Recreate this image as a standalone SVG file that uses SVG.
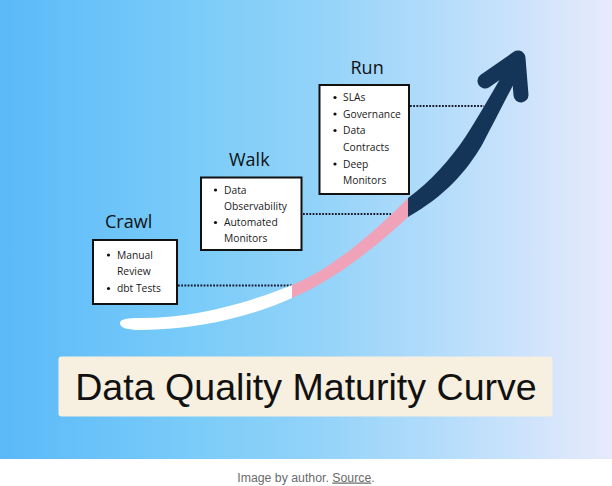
<svg xmlns="http://www.w3.org/2000/svg" width="612" height="486" viewBox="0 0 612 486">
<defs>
<linearGradient id="bg" x1="0" y1="0" x2="1" y2="0">
<stop offset="0" stop-color="#5bb9f8"/>
<stop offset="0.3" stop-color="#78cbf9"/>
<stop offset="0.5" stop-color="#90d2f9"/>
<stop offset="0.75" stop-color="#b9defb"/>
<stop offset="1" stop-color="#e8eafc"/>
</linearGradient>
<style>
.box{fill:#fff;stroke:#111;stroke-width:2}
.stage{font-family:"Open Sans",Lato,sans-serif;font-size:18px;fill:#111}
.item{font-family:"Open Sans",Lato,sans-serif;font-size:10.3px;fill:#1a1a1a}
.dot{stroke:#1a1a2e;stroke-width:2;stroke-dasharray:1.8 1.4;fill:none}
</style>
</defs>
<rect x="0" y="0" width="612" height="486" fill="#fff"/>
<rect x="0" y="0" width="612" height="459" fill="url(#bg)"/>

<g id="connectors">
<line class="dot" x1="178" y1="285.5" x2="292" y2="285.5"/>
<line class="dot" x1="303" y1="214" x2="391" y2="214"/>
<line class="dot" x1="410" y1="106" x2="484" y2="106"/>
</g>

<g id="curve">
<path d="M292,285 C255,300 200,318 140,318 C128,318 120,319 120,323 C120,328 128,330 140,330 C200,330 255,315 292,298 Z" fill="#ffffff"/>
<path d="M292,285 C330,270 375,232 408,198 L408,217 C378,245 335,280 292,298 Z" fill="#f0a3b8"/>
<path d="M408,198 C430,182 450,160 466,136 C480,114 495,88 512,58 L524,64 C508,95 494,122 482,145 C466,172 445,196 408,217 Z" fill="#143557"/>
<polyline points="485,81 518,58 521,95" fill="none" stroke="#143557" stroke-width="15" stroke-linecap="round" stroke-linejoin="round"/>
</g>

<g id="crawl">
<text class="stage" x="105" y="228">Crawl</text>
<rect class="box" x="93" y="240" width="84" height="64"/>
<circle cx="108.5" cy="255" r="1.6" fill="#111"/>
<text class="item" x="117" y="258.5">Manual</text>
<text class="item" x="117" y="275">Review</text>
<circle cx="108.5" cy="288.5" r="1.6" fill="#111"/>
<text class="item" x="117" y="292">dbt Tests</text>
</g>

<g id="walk">
<text class="stage" x="229" y="166">Walk</text>
<rect class="box" x="201" y="177.5" width="100.5" height="72.5"/>
<circle cx="215.5" cy="190" r="1.6" fill="#111"/>
<text class="item" x="224" y="193.5">Data</text>
<text class="item" x="224" y="209.5">Observability</text>
<circle cx="215.5" cy="222.5" r="1.6" fill="#111"/>
<text class="item" x="224" y="226">Automated</text>
<text class="item" x="224" y="242">Monitors</text>
</g>

<g id="run">
<text class="stage" x="350.5" y="74">Run</text>
<rect class="box" x="319.5" y="85" width="89.5" height="109"/>
<circle cx="335" cy="97.5" r="1.6" fill="#111"/>
<text class="item" x="343" y="101">SLAs</text>
<circle cx="335" cy="114" r="1.6" fill="#111"/>
<text class="item" x="343" y="117.5">Governance</text>
<circle cx="335" cy="130.5" r="1.6" fill="#111"/>
<text class="item" x="343" y="134">Data</text>
<text class="item" x="343" y="150.5">Contracts</text>
<circle cx="335" cy="164" r="1.6" fill="#111"/>
<text class="item" x="343" y="167.5">Deep</text>
<text class="item" x="343" y="183.5">Monitors</text>
</g>

<g id="title">
<rect x="58.5" y="356.5" width="494" height="60" rx="3" fill="#f7efe0"/>
<text x="306" y="399.5" text-anchor="middle" font-family="'Liberation Sans',Arial,sans-serif" font-size="37.6" fill="#111">Data Quality Maturity Curve</text>
</g>

<g id="caption">
<text x="306" y="481.5" text-anchor="middle" font-family="'Liberation Sans',Arial,sans-serif" font-size="12.3" fill="#6b6b6b">Image by author. <tspan text-decoration="underline">Source</tspan>.</text>
</g>
</svg>
